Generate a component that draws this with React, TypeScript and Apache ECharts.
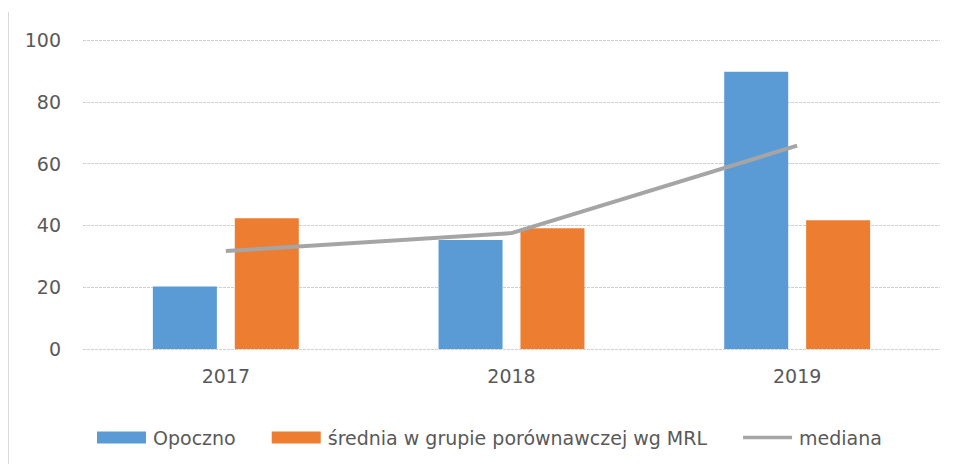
import React, { useEffect, useRef } from "react";
import * as echarts from "echarts";

const categories = ["2017", "2018", "2019"];
const opocznoValues = [20.2, 35.3, 89.7];
const sredniaValues = [42.3, 39.1, 41.7];
const medianaValues = [31.7, 37.5, 65.8];
const yTicks = [0, 20, 40, 60, 80, 100];

export default function App() {
  const ref = useRef<HTMLDivElement>(null);
  useEffect(() => {
    document.body.style.margin = "0";
    const chart = echarts.init(ref.current!, null, { renderer: "svg" });
    const font = "DejaVu Sans";
    chart.setOption({
      animation: false,
      backgroundColor: "#ffffff",
      grid: { left: 83, right: 13, top: 40, bottom: 115 },
      legend: {
        left: 92,
        top: 423,
        itemWidth: 49,
        itemHeight: 12,
        itemGap: 36,
        textStyle: { fontFamily: font, fontSize: 19, color: "#595959", padding: [0, 0, 0, 2] },
        data: [
          { name: "Opoczno", icon: "rect" },
          { name: "średnia w grupie porównawczej wg MRL", icon: "rect" },
          { name: "mediana", icon: "path://M0,4L56,4L56,8L0,8Z" },
        ],
      },
      xAxis: {
        type: "category",
        data: categories,
        axisLine: { show: false },
        axisTick: { show: false },
        axisLabel: { fontFamily: font, fontSize: 19, color: "#595959", margin: 17 },
      },
      yAxis: {
        type: "value",
        min: yTicks[0],
        max: yTicks[yTicks.length - 1],
        interval: 20,
        axisLine: { show: false },
        axisTick: { show: false },
        axisLabel: { fontFamily: font, fontSize: 19, color: "#595959", margin: 22 },
        splitLine: { lineStyle: { color: "#CFCFCF", width: 1, type: [3, 1] } },
      },
      graphic: [
        {
          type: "line",
          shape: { x1: 8.5, y1: 12, x2: 8.5, y2: 464 },
          style: { stroke: "#D9D9D9", lineWidth: 1 },
          silent: true,
        },
      ],
      series: [
        {
          name: "Opoczno",
          type: "bar",
          data: opocznoValues,
          barWidth: 64,
          barGap: "28%",
          itemStyle: { color: "#5B9BD5" },
        },
        {
          name: "średnia w grupie porównawczej wg MRL",
          type: "bar",
          data: sredniaValues,
          barWidth: 64,
          itemStyle: { color: "#ED7D31" },
        },
        {
          name: "mediana",
          type: "line",
          data: medianaValues,
          symbol: "none",
          lineStyle: { color: "#A5A5A5", width: 4 },
          itemStyle: { color: "#A5A5A5" },
          z: 5,
        },
      ],
    });
    return () => chart.dispose();
  }, []);
  return <div ref={ref} style={{ width: 953, height: 464 }} />;
}
